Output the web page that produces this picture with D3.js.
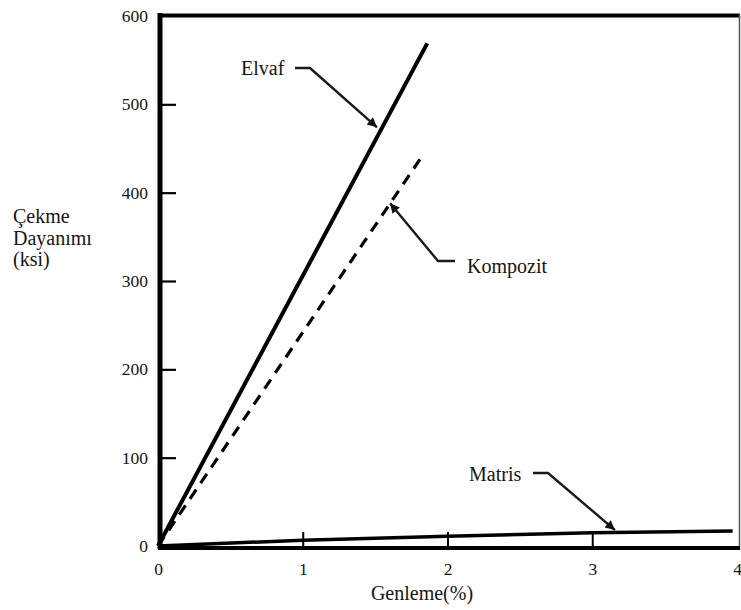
<!DOCTYPE html>
<html>
<head>
<meta charset="utf-8">
<script src="https://cdn.jsdelivr.net/npm/d3@7/dist/d3.min.js"></script>
<style>
  html, body { margin: 0; padding: 0; background: #fff; }
  svg { display: block; }
  text { font-family: "Liberation Serif", "Times New Roman", serif; fill: #151515; }
</style>
</head>
<body>
<svg id="chart" width="741" height="610"></svg>
<script>
// ---- data ----
const xTicks = [0, 1, 2, 3, 4];
const yTicks = [0, 100, 200, 300, 400, 500, 600];
const elyafStrain = [0, 1.86];
const elyafStress = [0, 569];
const kompozitStrain = [0, 1.84];
const kompozitStress = [0, 445];
const matrisStrain = [0, 1, 2, 3, 3.97];
const matrisStress = [0, 6.5, 11, 15, 17];
const labelNames = ["Elvaf", "Kompozit", "Matris"];
const arrowTipStrain = [1.513, 1.603, 3.157];
const arrowTipStress = [474, 388, 18];
const xTitle = "Genleme(%)";
const yTitleLines = ["Çekme", "Dayanımı", "(ksi)"];

// ---- layout ----
const W = 741, H = 610;
const svg = d3.select("#chart");
svg.append("rect").attr("width", W).attr("height", H).attr("fill", "#fff");

const x = d3.scaleLinear().domain([0, 4]).range([158, 737]);
const y = d3.scaleLinear().domain([0, 600]).range([546, 16]);

// frame: top and right borders
svg.append("line").attr("x1", 158).attr("x2", 740).attr("y1", 15.5).attr("y2", 15.5)
  .attr("stroke", "#000").attr("stroke-width", 4);
svg.append("line").attr("x1", 739.5).attr("x2", 739.5).attr("y1", 14).attr("y2", 550)
  .attr("stroke", "#555").attr("stroke-width", 1.5);

// left axis
const yAxis = d3.axisLeft(y).tickValues(yTicks).tickSizeInner(-16).tickSizeOuter(0).tickPadding(12)
  .tickFormat(d3.format("d"));
const gy = svg.append("g").attr("transform", "translate(160,0)").call(yAxis);
gy.select(".domain").attr("stroke", "#000").attr("stroke-width", 5).attr("d", "M0,13V549");
gy.selectAll(".tick line").attr("stroke", "#000").attr("stroke-width", 2.2)
  .attr("display", d => (d === 0 || d === 600) ? "none" : null);
gy.selectAll(".tick text").attr("font-size", 17.5).attr("font-family", "Liberation Serif, serif").attr("fill", "#222");

// bottom axis
const xAxis = d3.axisBottom(x).tickValues(xTicks).tickSizeInner(-16).tickSizeOuter(0).tickPadding(15)
  .tickFormat(d3.format("d"));
const gx = svg.append("g").attr("transform", "translate(0,548)").call(xAxis);
gx.select(".domain").attr("stroke", "#000").attr("stroke-width", 4).attr("d", "M158,0H740");
gx.selectAll(".tick line").attr("stroke", "#000").attr("stroke-width", 2)
  .attr("display", d => (d === 0 || d === 4) ? "none" : null);
gx.selectAll(".tick text").attr("font-size", 17.5).attr("font-family", "Liberation Serif, serif").attr("fill", "#222");

// axis titles
svg.append("text").attr("x", 422).attr("y", 600).attr("text-anchor", "middle")
  .attr("font-size", 20).text(xTitle);
const yt = svg.append("text").attr("font-size", 20);
yTitleLines.forEach((t, i) => {
  yt.append("tspan").attr("x", 13).attr("y", 223 + i * 21.5).text(t);
});

// curves
const line = d3.line().x(d => x(d[0])).y(d => y(d[1]));
const elyaf = elyafStrain.map((v, i) => [v, elyafStress[i]]);
const kompozit = kompozitStrain.map((v, i) => [v, kompozitStress[i]]);
const matris = matrisStrain.map((v, i) => [v, matrisStress[i]]);

svg.append("path").datum(elyaf).attr("d", line).attr("fill", "none")
  .attr("stroke", "#000").attr("stroke-width", 4);
svg.append("path").datum(kompozit).attr("d", line).attr("fill", "none")
  .attr("stroke", "#000").attr("stroke-width", 3.2).attr("stroke-dasharray", "11,8");
svg.append("path").datum(matris).attr("d", line).attr("fill", "none")
  .attr("stroke", "#000").attr("stroke-width", 3.5);

// arrowheads
svg.append("defs").append("marker").attr("id", "arr")
  .attr("viewBox", "0 0 10 10").attr("refX", 10).attr("refY", 5)
  .attr("markerWidth", 5).attr("markerHeight", 4).attr("markerUnits", "strokeWidth")
  .attr("orient", "auto")
  .append("path").attr("d", "M0,0L10,5L0,10Z").attr("fill", "#111");

// annotation layout in pixels: text position, leader horizontal segment
const annLayout = [
  { tx: 241, ty: 75, hx0: 295, hx1: 310, hy: 68 },
  { tx: 467, ty: 273, hx0: 455, hx1: 438, hy: 261 },
  { tx: 469, ty: 481, hx0: 533, hx1: 548, hy: 473 }
];
labelNames.forEach((name, i) => {
  const L = annLayout[i];
  const tipX = x(arrowTipStrain[i]), tipY = y(arrowTipStress[i]);
  svg.append("text").attr("x", L.tx).attr("y", L.ty).attr("font-size", 20).text(name);
  svg.append("path")
    .attr("d", `M${L.hx0},${L.hy}L${L.hx1},${L.hy}L${tipX},${tipY}`)
    .attr("fill", "none").attr("stroke", "#1a1a1a").attr("stroke-width", 2.4)
    .attr("marker-end", "url(#arr)");
});
</script>
</body>
</html>
